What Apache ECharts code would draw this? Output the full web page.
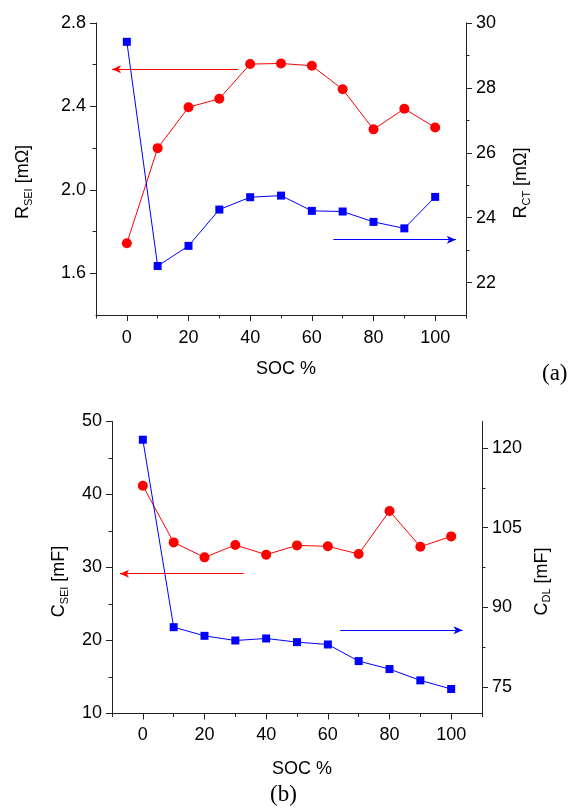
<!DOCTYPE html>
<html>
<head>
<meta charset="utf-8">
<script src="https://cdn.jsdelivr.net/npm/echarts@6/dist/echarts.min.js"></script>
<style>
html,body{margin:0;padding:0;background:#fff;}
#c{width:573px;height:811px;}
</style>
</head>
<body>
<div id="c"></div>
<script>
// ---- data ----
const soc = [0, 10, 20, 30, 40, 50, 60, 70, 80, 90, 100];
const rSEI = [1.744, 2.20, 2.396, 2.437, 2.603, 2.606, 2.595, 2.482, 2.290, 2.389, 2.299];
const rCT = [29.42, 22.51, 23.13, 24.25, 24.63, 24.68, 24.21, 24.19, 23.87, 23.67, 24.64];
const cSEI = [41.2, 33.44, 31.39, 33.08, 31.76, 33.03, 32.90, 31.85, 37.73, 32.85, 34.26];
const cDL = [121.57, 86.26, 84.63, 83.75, 84.13, 83.44, 83.0, 79.87, 78.37, 76.24, 74.61];

// ---- ticks ----
const xTicks = [0, 20, 40, 60, 80, 100];
const xMinor = [-10, 10, 30, 50, 70, 90, 110];
const rSEITicks = [1.6, 2.0, 2.4, 2.8];
const rSEIMinor = [1.8, 2.2, 2.6];
const rCTTicks = [22, 24, 26, 28, 30];
const rCTMinor = [23, 25, 27, 29];
const cSEITicks = [10, 20, 30, 40, 50];
const cSEIMinor = [15, 25, 35, 45];
const cDLTicks = [75, 90, 105, 120];
const cDLMinor = [82.5, 97.5, 112.5];

// ---- annotation arrows (data coords) ----
const arrowA_red = [[36, 2.578], [-4.8, 2.578]];
const arrowA_blue = [[67, 23.32], [106.7, 23.32]];
const arrowB_red = [[32.7, 29.16], [-7.4, 29.16]];
const arrowB_blue = [[64, 85.7], [103.7, 85.7]];

const RED = '#ff0000', BLUE = '#0000ff', AX = '#222';
const FONT = 'Liberation Sans';

const rich = {
  m: { fontSize: 18, lineHeight: 22, color: '#000', fontFamily: FONT },
  s: { fontSize: 11, lineHeight: 11, verticalAlign: 'bottom', color: '#000', fontFamily: FONT }
};

function mainAxis(gridIndex, position, min, max, ticks, fmt, extra) {
  return Object.assign({
    type: 'value', gridIndex, position, min, max,
    axisLine: { show: true, onZero: false, lineStyle: { color: AX, width: 1 } },
    axisTick: { show: true, inside: false, length: 6, customValues: ticks, lineStyle: { color: AX, width: 1 } },
    axisLabel: { show: true, customValues: ticks, formatter: fmt, color: '#000', fontSize: 18, fontFamily: FONT, margin: 10 },
    splitLine: { show: false }
  }, extra || {});
}
function minorAxis(gridIndex, position, min, max, ticks) {
  return {
    type: 'value', gridIndex, position, min, max,
    axisLine: { show: false, onZero: false },
    axisTick: { show: true, inside: false, length: 3.5, customValues: ticks, lineStyle: { color: AX, width: 1 } },
    axisLabel: { show: false },
    splitLine: { show: false }
  };
}
const f1 = v => v.toFixed(1);
const f0 = v => String(v);

function arrowLine(pts, color) {
  return {
    silent: true, symbol: ['none', 'arrow'], symbolSize: [6, 9],
    label: { show: false },
    lineStyle: { color, width: 1, type: 'solid' },
    data: [[{ coord: pts[0] }, { coord: pts[1] }]]
  };
}
function lineSeries(xi, yi, vals, color, symbol, size, arrow) {
  return {
    type: 'line', xAxisIndex: xi, yAxisIndex: yi,
    data: soc.map((x, i) => [x, vals[i]]),
    symbol, symbolSize: size, showSymbol: true,
    itemStyle: { color }, lineStyle: { color, width: 1 },
    animation: false,
    markLine: arrowLine(arrow, color)
  };
}

const option = {
  animation: false,
  backgroundColor: '#fff',
  textStyle: { fontFamily: FONT },
  grid: [
    { left: 96, right: 107, top: 23, height: 292 },
    { left: 112, right: 91, top: 421.5, height: 292 }
  ],
  xAxis: [
    mainAxis(0, 'bottom', -10, 110, xTicks, f0, { name: 'SOC %', nameLocation: 'middle', nameGap: 45, nameTextStyle: { fontSize: 18, color: '#000', fontFamily: FONT, padding: [0, 0, 0, 10] }, axisLabel: { customValues: xTicks, color: '#000', fontSize: 18, fontFamily: FONT, margin: 14 } }),
    minorAxis(0, 'bottom', -10, 110, xMinor),
    mainAxis(1, 'bottom', -10, 110, xTicks, f0, { name: 'SOC %', nameLocation: 'middle', nameGap: 47, nameTextStyle: { fontSize: 18, color: '#000', fontFamily: FONT, padding: [0, 0, 0, 10] }, axisLabel: { customValues: xTicks, color: '#000', fontSize: 18, fontFamily: FONT, margin: 13 } }),
    minorAxis(1, 'bottom', -10, 110, xMinor)
  ],
  yAxis: [
    mainAxis(0, 'left', 1.4, 2.8, rSEITicks, f1, { name: '{m|R}{s|SEI}{m| [mΩ]}', nameLocation: 'middle', nameRotate: 90, nameGap: 62, nameTextStyle: { rich, padding: [0, 26, 0, 0] } }),
    minorAxis(0, 'left', 1.4, 2.8, rSEIMinor),
    mainAxis(0, 'right', 21, 30, rCTTicks, f0, { name: '{m|R}{s|CT}{m| [mΩ]}', nameLocation: 'middle', nameRotate: 90, nameGap: 44, nameTextStyle: { rich, padding: [0, 28, 0, 0] } }),
    minorAxis(0, 'right', 21, 30, rCTMinor),
    mainAxis(1, 'left', 10, 50, cSEITicks, f0, { name: '{m|C}{s|SEI}{m| [mF]}', nameLocation: 'middle', nameRotate: 90, nameGap: 42, nameTextStyle: { rich, padding: [0, 28, 0, 0] } }),
    minorAxis(1, 'left', 10, 50, cSEIMinor),
    mainAxis(1, 'right', 70, 125, cDLTicks, f0, { name: '{m|C}{s|DL}{m| [mF]}', nameLocation: 'middle', nameRotate: 90, nameGap: 46, nameTextStyle: { rich, padding: [0, 28, 0, 0] } }),
    minorAxis(1, 'right', 70, 125, cDLMinor)
  ],
  series: [
    lineSeries(0, 0, rSEI, RED, 'circle', 10, arrowA_red),
    lineSeries(0, 2, rCT, BLUE, 'rect', 8, arrowA_blue),
    lineSeries(2, 4, cSEI, RED, 'circle', 10, arrowB_red),
    lineSeries(2, 6, cDL, BLUE, 'rect', 8, arrowB_blue)
  ],
  graphic: [
    { type: 'text', left: 542, top: 362, style: { text: '(a)', font: '23px "Liberation Serif"', fill: '#000' } },
    { type: 'text', left: 270, top: 783, style: { text: '(b)', font: '23px "Liberation Serif"', fill: '#000' } }
  ]
};

const chart = echarts.init(document.getElementById('c'), null, { renderer: 'canvas' });
chart.setOption(option);
</script>
</body>
</html>
